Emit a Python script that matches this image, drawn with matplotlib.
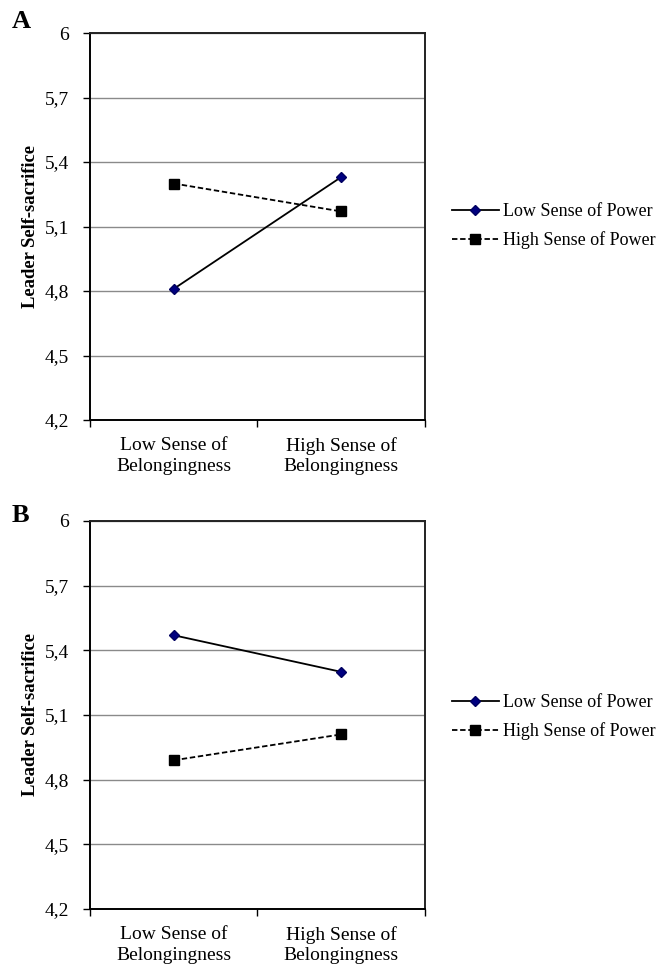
import numpy as np
import matplotlib.pyplot as plt
from matplotlib.ticker import FixedLocator, FuncFormatter

plt.rcParams['font.family'] = ['Liberation Serif', 'DejaVu Serif']

# categories and values
categories = ["Low Sense of\nBelongingness", "High Sense of\nBelongingness"]
series_names = ["Low Sense of Power", "High Sense of Power"]
panel_a_low_power = [4.81, 5.33]
panel_a_high_power = [5.30, 5.17]
panel_b_low_power = [5.47, 5.30]
panel_b_high_power = [4.89, 5.01]
y_ticks = [4.2, 4.5, 4.8, 5.1, 5.4, 5.7, 6.0]

fig = plt.figure(figsize=(6.59, 9.69), dpi=100)

# axes placed in figure pixels (left, top, right, bottom)
W, H = 659, 969
def px_axes(l, t, r, b):
    return fig.add_axes([l / W, 1 - b / H, (r - l) / W, (b - t) / H])

ax_a = px_axes(90, 33, 425, 420)
ax_b = px_axes(90, 521, 425, 909)

# axes, panel letter, series, letter y (px), legend centre y (px)
panels = [
    (ax_a, "A", panel_a_low_power, panel_a_high_power, 22, 226),
    (ax_b, "B", panel_b_low_power, panel_b_high_power, 516, 717),
]

x = np.arange(len(categories))

for ax, letter, low, high, let_y, leg_y in panels:
    ax.plot(x, low, color="black", lw=1.3, marker="D", markersize=5.5,
            markerfacecolor="#000080", markeredgecolor="#000060",
            label=series_names[0], zorder=3)
    ax.plot(x, high, color="black", lw=1.3, linestyle=(0, (3, 1.5)), marker="s",
            markersize=7.5, markerfacecolor="black", markeredgecolor="black",
            label=series_names[1], zorder=3)

    ax.set_xlim(-0.5, len(categories) - 0.5)
    ax.set_ylim(4.2, 6.0)
    ax.yaxis.set_major_locator(FixedLocator(y_ticks))
    ax.yaxis.set_major_formatter(FuncFormatter(
        lambda v, p: ("%g" % round(v, 1)).replace(".", ",")))
    ax.grid(axis="y", color="#8a8a8a", lw=1.0)
    ax.set_axisbelow(True)

    # category labels centered, tick marks at boundaries
    ax.set_xticks(x)
    ax.set_xticklabels(categories, fontsize=14, linespacing=1.3)
    ax.tick_params(axis="x", which="major", length=0, pad=12)
    ax.set_xticks(np.arange(-0.5, len(categories), 1.0), minor=True)
    ax.tick_params(axis="x", which="minor", length=5, direction="out", width=1)
    ax.tick_params(axis="y", length=5, direction="out", width=1,
                   labelsize=14, pad=10)

    for side in ["left", "bottom"]:
        ax.spines[side].set_linewidth(1.4)
        ax.spines[side].set_color("black")
    for side in ["top", "right"]:
        ax.spines[side].set_linewidth(1.4)
        ax.spines[side].set_color("#222222")

    ax.set_ylabel("Leader Self-sacrifice", fontsize=13.4, fontweight="bold",
                  labelpad=4)

    fig.text(12 / W, 1 - let_y / H, letter, fontsize=19, fontweight="bold",
             va="center", ha="left")

    ax.legend(loc="center left", bbox_to_anchor=(452 / W, 1 - leg_y / H),
              bbox_transform=fig.transFigure, frameon=False, fontsize=13,
              handlelength=2.6, handletextpad=0.25, labelspacing=0.62,
              borderpad=0, borderaxespad=0)

fig.savefig("out.png", dpi=100)
